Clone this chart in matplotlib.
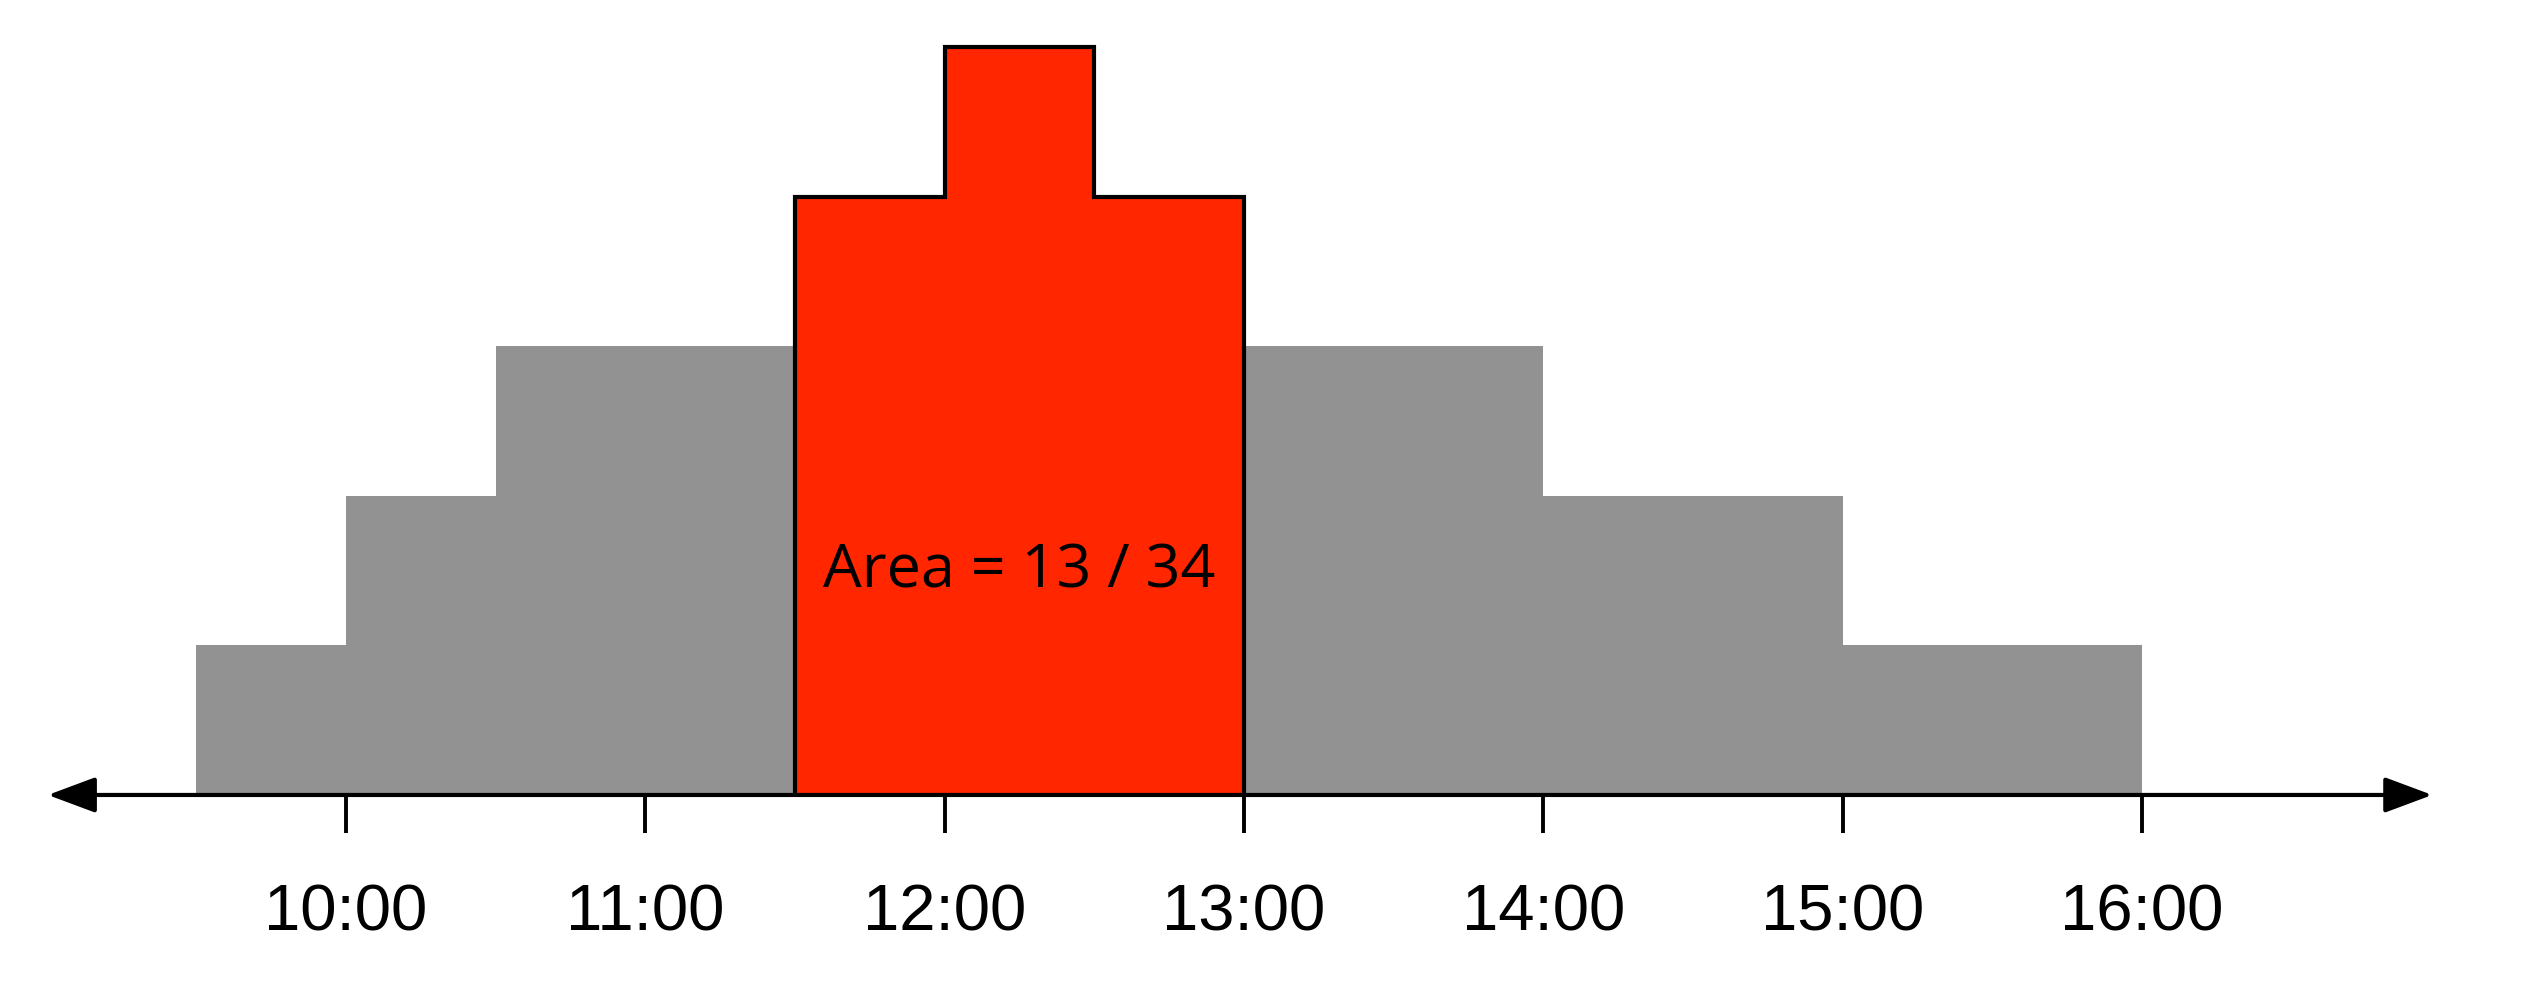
import numpy as np
import matplotlib
matplotlib.use("Agg")
import matplotlib.pyplot as plt
from matplotlib.patches import FancyArrowPatch

plt.rcParams["font.family"] = ["Liberation Sans", "DejaVu Sans"]

# half-hour bins (hours of day) and how many fall in each
bin_edges = [9.5, 10.0, 10.5, 11.0, 11.5, 12.0, 12.5, 13.0, 13.5, 14.0, 14.5, 15.0, 15.5, 16.0]
counts = [1, 2, 3, 3, 4, 5, 4, 3, 3, 2, 2, 1, 1]

# highlighted range 11:30 - 13:00
hl_start, hl_end = 11.5, 13.0

tick_pos = [10, 11, 12, 13, 14, 15, 16]
tick_labels = ["10:00", "11:00", "12:00", "13:00", "14:00", "15:00", "16:00"]

grey = "#929292"
red = "#ff2600"

edges = np.array(bin_edges)
vals = np.array(counts)
mask = (edges[:-1] >= hl_start) & (edges[1:] <= hl_end)
hl_vals = vals[mask]
hl_edges = np.append(edges[:-1][mask], edges[1:][mask][-1])
area_text = "Area = {} / {}".format(hl_vals.sum(), vals.sum())

fig = plt.figure(figsize=(25.37, 10.08), dpi=100)
ax = fig.add_axes([0, 0, 1, 1])

ax.stairs(vals, edges, baseline=0, fill=True, color=grey, linewidth=0)
ax.stairs(hl_vals, hl_edges, baseline=0, fill=True, facecolor=red,
          edgecolor="black", linewidth=3, zorder=3)

ax.text((hl_start + hl_end) / 2, 1.39, area_text, ha="center", va="baseline",
        fontsize=44, family="Open Sans", zorder=5)

# x axis with arrows on both ends
arrow = FancyArrowPatch((9.004, 0), (16.97, 0),
                        arrowstyle="<|-|>,head_length=2.95,head_width=1.1",
                        mutation_scale=10, shrinkA=0, shrinkB=0,
                        color="black", linewidth=3, zorder=4)
ax.add_patch(arrow)

ax.set_xlim(8.844, 17.32)
ax.set_ylim(-1.424, 5.314)

for s in ax.spines.values():
    s.set_visible(False)
ax.set_yticks([])
ax.set_xticks(tick_pos, tick_labels)
ax.tick_params(axis="x", direction="out", length=27, width=2.8, pad=37,
               labelsize=47)
ax.xaxis.set_ticks_position("bottom")
# put the ticks on the zero line
ax.spines["bottom"].set_position(("data", 0))

fig.savefig("out.png", dpi=100, facecolor="white")
